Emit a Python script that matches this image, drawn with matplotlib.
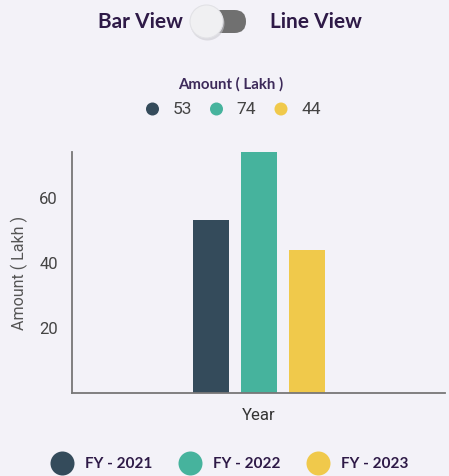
import matplotlib
matplotlib.use("Agg")
import matplotlib.pyplot as plt
from matplotlib.patches import Circle, FancyBboxPatch

# Data
categories = ["FY - 2021", "FY - 2022", "FY - 2023"]
values = [53, 74, 44]
colors = ["#344b5b", "#46b39d", "#f0c94b"]
y_ticks = [20, 40, 60]

BG = "#f3f2f8"
TITLE_C = "#2e1a47"

fig = plt.figure(figsize=(4.49, 4.76), dpi=100)
fig.patch.set_facecolor(BG)

# Main axes
ax = fig.add_axes([72/449, 1-393/476, (445-72)/449, (393-152)/476])
ax.set_facecolor(BG)
step = 48/373
for i, (v, c) in enumerate(zip(values, colors)):
    ax.bar((i-1)*step, v, width=36/373, color=c, zorder=2)
ax.set_xlim(-0.5, 0.5)
ax.set_ylim(0, 74)
ax.set_yticks(y_ticks)
ax.set_yticklabels([str(t) for t in y_ticks], fontsize=12, color="#444444", family="Roboto")
ax.tick_params(axis="y", length=0, pad=10)
ax.set_xticks([])
for s in ["top", "right"]:
    ax.spines[s].set_visible(False)
for s in ["left", "bottom"]:
    ax.spines[s].set_color("#777777")
    ax.spines[s].set_linewidth(1.3)
ax.set_xlabel("Year", fontsize=12, color="#333333", family="Roboto", labelpad=11)
ax.set_ylabel("Amount ( Lakh )", fontsize=11.5, color="#555555", family="Roboto", labelpad=8)

# Overlay in pixel coords
ov = fig.add_axes([0, 0, 1, 1], zorder=-1)
ov.set_xlim(0, 449)
ov.set_ylim(476, 0)
ov.axis("off")
ov.patch.set_alpha(0)

# Toggle header
ov.text(140, 21.5, "Bar View", ha="center", va="center", fontsize=15, fontweight="bold",
        color=TITLE_C, family="Lato")
ov.text(316, 21.5, "Line View", ha="center", va="center", fontsize=15, fontweight="bold",
        color=TITLE_C, family="Lato")
track = FancyBboxPatch((206, 10), 40, 23, boxstyle="round,pad=0,rounding_size=11.5",
                       facecolor="#707070", edgecolor="none")
ov.add_patch(track)
ov.add_patch(Circle((207.5, 23.5), 17, facecolor="#c8c8ce", edgecolor="none", alpha=0.55))
ov.add_patch(Circle((206.5, 21.5), 16.5, facecolor="#f0f0f2", edgecolor="#e2e2e6", lw=0.8))

# Top legend
ov.text(231, 84, "Amount ( Lakh )", ha="center", va="center", fontsize=10.8, fontweight="bold",
        color="#3d2a5a", family="Lato")
top_dot_x = [152.5, 216.5, 281]
for x, v, c in zip(top_dot_x, values, colors):
    ov.add_patch(Circle((x, 109), 6.5, facecolor=c, edgecolor="none"))
    ov.text(x + 20, 109.5, str(v), ha="left", va="center", fontsize=12.5,
            color="#444444", family="Roboto")

# Bottom legend
bot_dot_x = [62.5, 190.5, 318.5]
for x, lab, c in zip(bot_dot_x, categories, colors):
    ov.add_patch(Circle((x, 463.5), 12, facecolor=c, edgecolor="none"))
    ov.text(x + 22.5, 463.5, lab, ha="left", va="center", fontsize=11, fontweight="bold",
            color=TITLE_C, family="Lato")

fig.savefig("out.png", dpi=100, facecolor=BG)
